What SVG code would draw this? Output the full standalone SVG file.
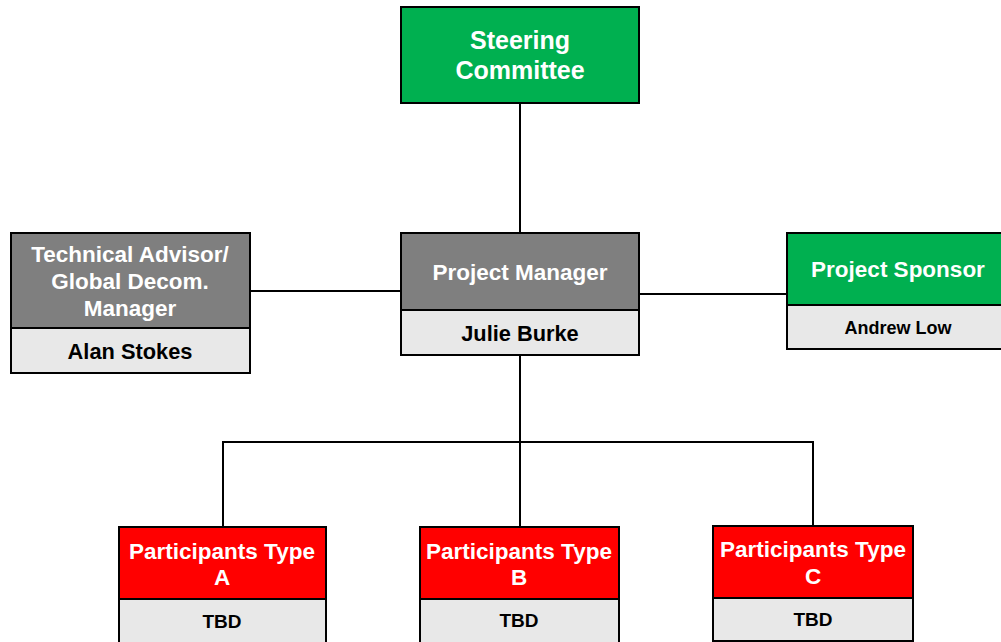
<svg xmlns="http://www.w3.org/2000/svg" width="1001" height="642" viewBox="0 0 1001 642">
<style>
.box{stroke:#000;stroke-width:2}
.g{fill:#00b050}.d{fill:#7f7f7f}.r{fill:#ff0000}.l{fill:#e8e8e8}
.t{font-family:"Liberation Sans",Arial,sans-serif;font-weight:bold;text-anchor:middle}
.w{fill:#fff;font-size:22.5px}.k{fill:#000;font-size:19px}
.big{font-size:25px}.kb{font-size:21.8px}
.c{stroke:#000;stroke-width:2;fill:none}
</style>
<rect width="1001" height="642" fill="#fff"/>
<g id="connectors">
<line class="c" x1="520" y1="103" x2="520" y2="233"/>
<line class="c" x1="250" y1="291" x2="401" y2="291"/>
<line class="c" x1="639" y1="294" x2="787" y2="294"/>
<line class="c" x1="520" y1="355" x2="520" y2="527"/>
<polyline class="c" points="223,527 223,442 813,442 813,526"/>
</g>
<g id="steering">
<rect class="box g" x="401" y="7" width="238" height="96"/>
<text class="t w big" x="520" y="49">Steering</text>
<text class="t w big" x="520" y="79">Committee</text>
</g>
<g id="technical">
<rect class="box d" x="11" y="233" width="239" height="95"/>
<rect class="box l" x="11" y="328" width="239" height="45"/>
<text class="t w" x="130" y="262">Technical Advisor/</text>
<text class="t w" x="130" y="289">Global Decom.</text>
<text class="t w" x="130" y="316">Manager</text>
<text class="t k kb" x="130" y="359">Alan Stokes</text>
</g>
<g id="pm">
<rect class="box d" x="401" y="233" width="238" height="77"/>
<rect class="box l" x="401" y="310" width="238" height="45"/>
<text class="t w" x="520" y="280">Project Manager</text>
<text class="t k kb" x="520" y="341">Julie Burke</text>
</g>
<g id="sponsor">
<rect class="box g" x="787" y="233" width="222" height="72"/>
<rect class="box l" x="787" y="305" width="222" height="44"/>
<text class="t w" x="898" y="277">Project Sponsor</text>
<text class="t k" x="898" y="334" style="font-size:18px">Andrew Low</text>
</g>
<g id="typeA">
<rect class="box r" x="119" y="527" width="207" height="72"/>
<rect class="box l" x="119" y="599" width="207" height="50"/>
<text class="t w" x="222" y="559">Participants Type</text>
<text class="t w" x="222" y="585">A</text>
<text class="t k" x="222" y="628">TBD</text>
</g>
<g id="typeB">
<rect class="box r" x="420" y="527" width="199" height="72"/>
<rect class="box l" x="420" y="599" width="199" height="50"/>
<text class="t w" x="519" y="559">Participants Type</text>
<text class="t w" x="519" y="585">B</text>
<text class="t k" x="519" y="627">TBD</text>
</g>
<g id="typeC">
<rect class="box r" x="713" y="526" width="200" height="72"/>
<rect class="box l" x="713" y="598" width="200" height="43"/>
<text class="t w" x="813" y="557">Participants Type</text>
<text class="t w" x="813" y="584">C</text>
<text class="t k" x="813" y="626">TBD</text>
</g>
</svg>
